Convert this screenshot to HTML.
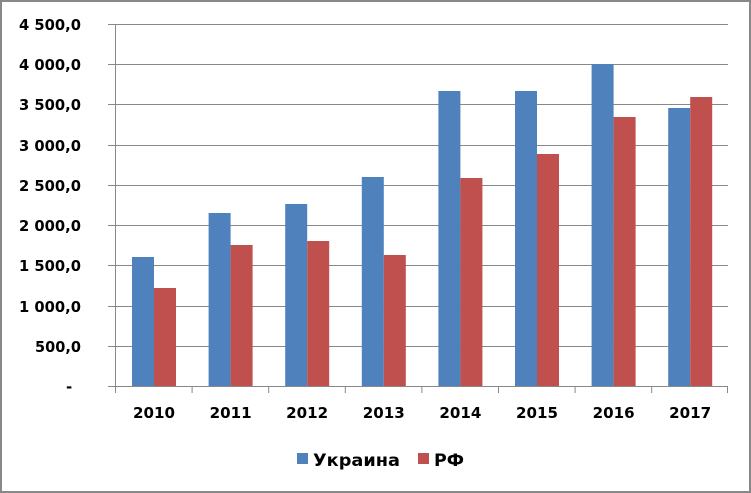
<!DOCTYPE html>
<html><head><meta charset="utf-8"><style>
html,body{margin:0;padding:0;background:#fff}
svg{display:block}
text{font-family:"DejaVu Sans","Liberation Sans",sans-serif;font-weight:bold;font-size:15px;fill:#000}
</style></head><body>
<svg width="751" height="493" viewBox="0 0 751 493">
<rect x="1" y="1" width="749" height="491" fill="#fff" stroke="#888" stroke-width="2"/>
<g stroke="#888" stroke-width="1">
<line x1="108" y1="24.5" x2="728" y2="24.5"/>
<line x1="108" y1="64.5" x2="728" y2="64.5"/>
<line x1="108" y1="104.5" x2="728" y2="104.5"/>
<line x1="108" y1="145.5" x2="728" y2="145.5"/>
<line x1="108" y1="185.5" x2="728" y2="185.5"/>
<line x1="108" y1="225.5" x2="728" y2="225.5"/>
<line x1="108" y1="265.5" x2="728" y2="265.5"/>
<line x1="108" y1="306.5" x2="728" y2="306.5"/>
<line x1="108" y1="346.5" x2="728" y2="346.5"/>
</g>
<g>
<rect x="132" y="257" width="22" height="129" fill="#4f81bd"/><rect x="154" y="288" width="22" height="98" fill="#c0504d"/>
<rect x="208.6" y="213" width="22" height="173" fill="#4f81bd"/><rect x="230.6" y="245" width="22" height="141" fill="#c0504d"/>
<rect x="285.2" y="204" width="22" height="182" fill="#4f81bd"/><rect x="307.2" y="241" width="22" height="145" fill="#c0504d"/>
<rect x="361.8" y="177" width="22" height="209" fill="#4f81bd"/><rect x="383.8" y="255" width="22" height="131" fill="#c0504d"/>
<rect x="438.4" y="91" width="22" height="295" fill="#4f81bd"/><rect x="460.4" y="178" width="22" height="208" fill="#c0504d"/>
<rect x="515" y="91" width="22" height="295" fill="#4f81bd"/><rect x="537" y="154" width="22" height="232" fill="#c0504d"/>
<rect x="591.6" y="64" width="22" height="322" fill="#4f81bd"/><rect x="613.6" y="117" width="22" height="269" fill="#c0504d"/>
<rect x="668.2" y="108" width="22" height="278" fill="#4f81bd"/><rect x="690.2" y="97" width="22" height="289" fill="#c0504d"/>
</g>
<g stroke="#888" stroke-width="1">
<line x1="115.5" y1="24" x2="115.5" y2="393"/>
<line x1="108" y1="386.5" x2="728" y2="386.5"/>
<line x1="192.1" y1="386" x2="192.1" y2="393"/>
<line x1="268.7" y1="386" x2="268.7" y2="393"/>
<line x1="345.3" y1="386" x2="345.3" y2="393"/>
<line x1="421.9" y1="386" x2="421.9" y2="393"/>
<line x1="498.5" y1="386" x2="498.5" y2="393"/>
<line x1="575.1" y1="386" x2="575.1" y2="393"/>
<line x1="651.7" y1="386" x2="651.7" y2="393"/>
<line x1="727.5" y1="386" x2="727.5" y2="393"/>
</g>
<g>
<text x="19" y="30" textLength="62" lengthAdjust="spacingAndGlyphs">4 500,0</text>
<text x="19" y="70" textLength="62" lengthAdjust="spacingAndGlyphs">4 000,0</text>
<text x="19" y="110" textLength="62" lengthAdjust="spacingAndGlyphs">3 500,0</text>
<text x="19" y="151" textLength="62" lengthAdjust="spacingAndGlyphs">3 000,0</text>
<text x="19" y="191" textLength="62" lengthAdjust="spacingAndGlyphs">2 500,0</text>
<text x="19" y="231" textLength="62" lengthAdjust="spacingAndGlyphs">2 000,0</text>
<text x="19" y="271" textLength="62" lengthAdjust="spacingAndGlyphs">1 500,0</text>
<text x="19" y="312" textLength="62" lengthAdjust="spacingAndGlyphs">1 000,0</text>
<text x="35" y="352" textLength="46" lengthAdjust="spacingAndGlyphs">500,0</text>
<text x="66" y="392">-</text>
</g>
<g>
<text x="133" y="418" textLength="42" lengthAdjust="spacingAndGlyphs">2010</text>
<text x="209.6" y="418" textLength="42" lengthAdjust="spacingAndGlyphs">2011</text>
<text x="286.2" y="418" textLength="42" lengthAdjust="spacingAndGlyphs">2012</text>
<text x="362.8" y="418" textLength="42" lengthAdjust="spacingAndGlyphs">2013</text>
<text x="439.4" y="418" textLength="42" lengthAdjust="spacingAndGlyphs">2014</text>
<text x="516" y="418" textLength="42" lengthAdjust="spacingAndGlyphs">2015</text>
<text x="592.6" y="418" textLength="42" lengthAdjust="spacingAndGlyphs">2016</text>
<text x="669.2" y="418" textLength="42" lengthAdjust="spacingAndGlyphs">2017</text>
</g>
<rect x="297" y="453" width="11" height="11" fill="#4f81bd"/>
<text x="313" y="466" style="font-size:17px" textLength="87" lengthAdjust="spacingAndGlyphs">Украина</text>
<rect x="418" y="453" width="11" height="11" fill="#c0504d"/>
<text x="434" y="466" style="font-size:17px" textLength="30" lengthAdjust="spacingAndGlyphs">РФ</text>
</svg>
</body></html>
